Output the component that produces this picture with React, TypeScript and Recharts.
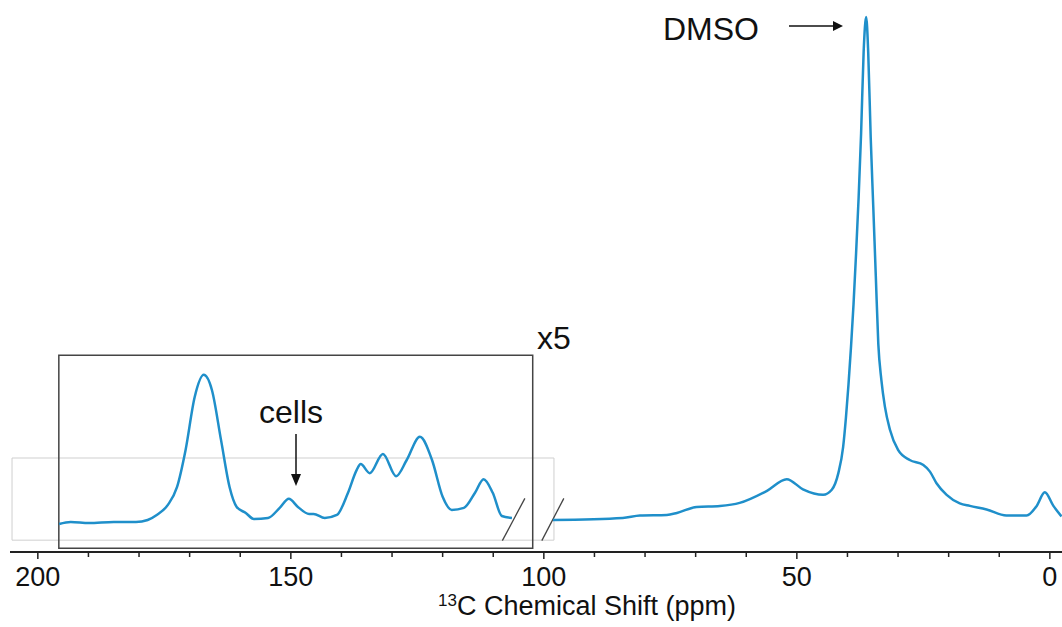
import React from 'react';
import { LineChart, Line, XAxis, YAxis, ReferenceArea, ReferenceLine } from 'recharts';

// 13C spectrum, intensity normalised so the DMSO peak = 100
const mainPpm = [98.2, 84.4, 81.0, 75.7, 73.7, 69.8, 65.2, 61.3, 55.9, 52.0, 48.8, 44.8, 43.1, 41.8, 40.85, 40.3, 39.8, 39.3, 38.8, 38.3, 37.8, 37.3, 36.8, 36.3, 35.9, 35.4, 34.9, 34.4, 33.9, 33.3, 32.6, 31.6, 30.0, 27.7, 25.0, 23.7, 22.4, 20.4, 17.8, 15.8, 12.5, 8.6, 4.6, 2.6, 1.0, -0.7, -2.3];
const mainIntensity = [0.2, 0.6, 1.1, 1.2, 1.6, 2.8, 3.0, 3.6, 6.0, 8.3, 6.3, 5.2, 6.2, 9.5, 14.7, 20.5, 27.0, 34.5, 43.0, 53.0, 64.0, 77.0, 93.1, 100, 93.1, 76.0, 62.4, 48.7, 35.1, 28.0, 22.7, 18.1, 14.1, 12.1, 11.1, 9.8, 7.5, 5.2, 3.5, 3.0, 2.3, 1.1, 1.1, 3.0, 5.7, 3.0, 0.9];

// 106-196 ppm region, shown x5
const insetPpm = [195.8, 193.5, 189.9, 185.0, 180.6, 178.3, 176.5, 174.3, 172.5, 170.8, 169.0, 167.2, 165.6, 163.8, 162.1, 160.7, 158.9, 157.3, 154.5, 152.2, 150.4, 148.6, 146.4, 145.5, 143.3, 140.9, 138.7, 137.0, 136.2, 134.4, 131.8, 129.2, 127.1, 124.5, 122.1, 120.0, 118.2, 115.8, 113.6, 111.9, 110.1, 108.3, 106.3];
const insetX5 = [-0.6, -0.2, -0.4, -0.2, -0.2, 0.2, 1.2, 3.2, 6.7, 14.1, 24.6, 29.0, 26.0, 16.1, 6.7, 2.8, 1.6, 0.4, 0.6, 2.6, 4.4, 2.8, 1.4, 1.4, 0.6, 1.2, 5.6, 10.1, 11.3, 9.5, 13.3, 8.9, 12.1, 16.7, 12.1, 4.8, 2.2, 2.6, 5.6, 8.3, 5.6, 1.0, 0.6];

const majorTicks = [200, 150, 100, 50, 0];
const allTicks = [200, 190, 180, 170, 160, 150, 140, 130, 120, 110, 100, 90, 80, 70, 60, 50, 40, 30, 20, 10, 0];

const mainData = mainPpm.map((p, i) => ({ ppm: p, v: mainIntensity[i] }));
const insetData = insetPpm.map((p, i) => ({ ppm: p, v: insetX5[i] }));

const BLUE = '#1f8fca';
const FONT = "'Liberation Sans', Arial, Helvetica, sans-serif";

const AxisTick = (props: any) => {
  const { x, y, payload } = props;
  const major = majorTicks.includes(payload.value);
  return (
    <g>
      <line x1={x} x2={x} y1={y} y2={y + (major ? 7 : 5)} stroke="#222" strokeWidth={1.5} />
      {major && (
        <text x={x} y={y + 34} textAnchor="middle" fontSize={27} fill="#111" fontFamily={FONT}>
          {payload.value}
        </text>
      )}
    </g>
  );
};

export default function App() {
  return (
    <div style={{ position: 'absolute', left: 0, top: 0, width: 1062, height: 627, background: '#fff' }}>
      <LineChart width={1062} height={627} margin={{ top: 10, right: 0, bottom: 0, left: 10 }}>
        <XAxis
          type="number"
          dataKey="ppm"
          domain={[-2.4, 205.5]}
          reversed
          allowDataOverflow
          ticks={allTicks}
          interval={0}
          tickSize={0}
          tickMargin={0}
          tickLine={false}
          tick={<AxisTick />}
          height={75}
          axisLine={{ stroke: '#222', strokeWidth: 2 }}
        />
        <YAxis type="number" hide domain={[-6.15, 101.4]} allowDataOverflow />
        <ReferenceArea x1={205.1} x2={98.0} y1={-3.8} y2={12.5} fill="none" stroke="#cfcfcf" strokeWidth={1} ifOverflow="visible" />
        <ReferenceArea x1={195.85} x2={102.2} y1={-5.4} y2={32.9} fill="none" stroke="#444" strokeWidth={1.5} strokeOpacity={1} fillOpacity={0} ifOverflow="visible" />
        <ReferenceLine segment={[{ x: 108.2, y: -3.9 }, { x: 103.75, y: 4.5 }]} stroke="#444" strokeWidth={1.3} ifOverflow="visible" />
        <ReferenceLine segment={[{ x: 100.4, y: -3.9 }, { x: 96.05, y: 4.5 }]} stroke="#444" strokeWidth={1.3} ifOverflow="visible" />
        <Line data={insetData} dataKey="v" type="monotone" stroke={BLUE} strokeWidth={2.5} dot={false} isAnimationActive={false} />
        <Line data={mainData} dataKey="v" type="monotone" stroke={BLUE} strokeWidth={2.5} dot={false} isAnimationActive={false} />
      </LineChart>
      <svg width={1062} height={627} style={{ position: 'absolute', left: 0, top: 0, pointerEvents: 'none' }} fontFamily={FONT}>
        <text x={663} y={40} fontSize={32} fill="#111">DMSO</text>
        <line x1={789} y1={26} x2={834} y2={26} stroke="#111" strokeWidth={1.5} />
        <polygon points="833,21 843,26 833,31" fill="#111" />
        <text x={537} y={349} fontSize={32} fill="#111">x5</text>
        <text x={259} y={423} fontSize={32} fill="#111">cells</text>
        <line x1={296} y1={434} x2={296} y2={476} stroke="#111" strokeWidth={1.5} />
        <polygon points="291,474 301,474 296,486" fill="#111" />
        <text x={587} y={615} textAnchor="middle" fontSize={27} fill="#111">
          <tspan fontSize={17} dy={-9}>13</tspan>
          <tspan dy={9}>C Chemical Shift (ppm)</tspan>
        </text>
      </svg>
    </div>
  );
}
